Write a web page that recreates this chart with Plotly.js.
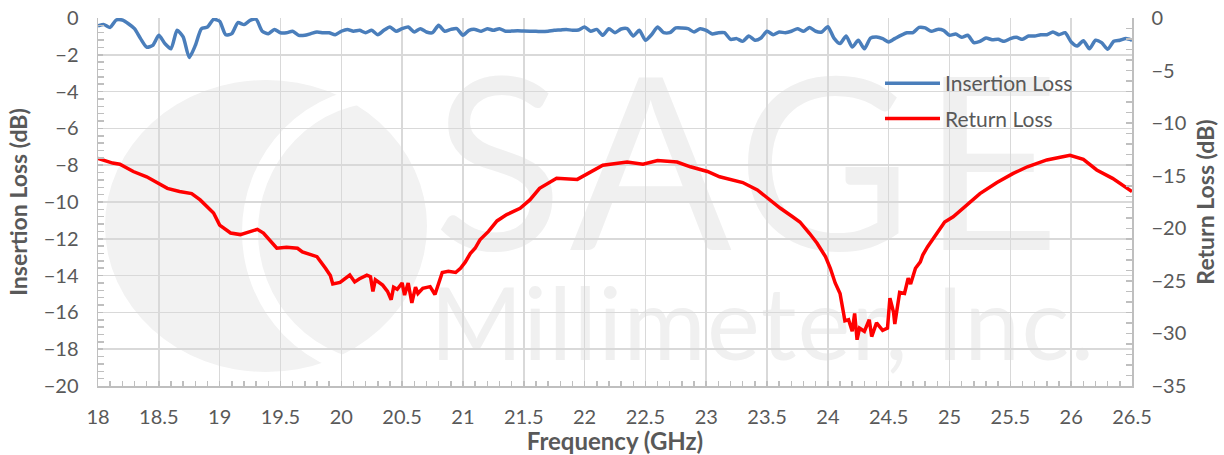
<!DOCTYPE html>
<html>
<head>
<meta charset="utf-8">
<script src="https://cdn.plot.ly/plotly-3.0.1.min.js"></script>
<style>html,body{margin:0;padding:0;background:#fff;}#chart{width:1224px;height:455px;}</style>
</head>
<body>
<div id="chart"></div>
<script>
// Insertion loss (dB), sampled every 0.05 GHz from 18.00 to 26.50 GHz
var insertionStart = 18.0;
var insertionStep = 0.05;
var insertionLoss = [
-0.43,-0.36,-0.51,-0.11,-0.11,-0.31,-0.58,-1.12,-1.58,-1.49,
-0.94,-1.39,-1.67,-0.67,-1.03,-2.15,-1.49,-0.58,-0.49,-0.07,
-0.18,-0.91,-0.85,-0.25,-0.36,-0.13,-0.07,-0.72,-0.85,-0.62,
-0.80,-0.80,-0.72,-0.94,-0.94,-0.85,-0.76,-0.80,-0.80,-0.91,
-0.72,-0.62,-0.72,-0.67,-0.80,-0.67,-0.91,-0.67,-0.49,-0.72,
-0.58,-0.49,-0.76,-0.58,-0.76,-0.80,-0.40,-0.72,-0.62,-0.58,
-0.94,-0.67,-0.62,-0.72,-0.58,-0.67,-0.58,-0.72,-0.71,-0.69,
-0.71,-0.72,-0.72,-0.74,-0.72,-0.67,-0.65,-0.62,-0.67,-0.65,
-0.49,-0.72,-0.62,-0.94,-0.58,-0.80,-0.60,-0.58,-0.98,-0.67,
-1.21,-0.91,-0.49,-0.80,-0.80,-0.54,-0.54,-0.58,-0.76,-0.58,
-0.67,-0.87,-0.80,-0.80,-1.16,-1.12,-1.27,-0.98,-1.21,-1.09,
-0.72,-0.91,-0.76,-0.80,-0.72,-0.58,-0.72,-0.51,-0.72,-0.76,
-0.47,-1.09,-1.39,-0.98,-1.58,-1.21,-1.67,-1.09,-1.03,-1.12,
-1.30,-1.12,-0.94,-0.80,-0.80,-0.51,-0.54,-0.72,-0.62,-0.67,
-0.94,-0.87,-1.05,-0.94,-1.34,-1.27,-1.09,-1.18,-1.16,-1.27,
-1.12,-1.05,-1.16,-0.98,-0.98,-0.91,-0.91,-0.76,-0.91,-0.80,
-1.30,-1.52,-1.23,-1.67,-1.21,-1.34,-1.70,-1.27,-1.21,-1.12,
-1.21
];

// Return loss (dB) read at these frequencies (GHz)
var returnFreq = [
18.00,18.12,18.18,18.29,18.40,18.49,18.57,18.67,18.77,18.84,
18.95,19.00,19.09,19.17,19.23,19.31,19.36,19.41,19.47,19.55,
19.64,19.68,19.76,19.80,19.87,19.91,19.93,19.99,20.07,20.11,
20.15,20.21,20.24,20.26,20.28,20.34,20.38,20.41,20.43,20.46,
20.50,20.52,20.55,20.58,20.61,20.63,20.67,20.73,20.77,20.80,
20.83,20.88,20.94,20.98,21.02,21.06,21.10,21.14,21.21,21.28,
21.36,21.47,21.55,21.63,21.77,21.94,22.04,22.15,22.35,22.48,
22.60,22.76,22.87,23.01,23.11,23.30,23.42,23.52,23.61,23.71,
23.77,23.85,23.91,23.98,24.02,24.06,24.10,24.14,24.17,24.20,
24.22,24.24,24.26,24.30,24.34,24.36,24.40,24.45,24.49,24.51,
24.54,24.55,24.57,24.59,24.63,24.66,24.68,24.72,24.76,24.78,
24.82,24.86,24.91,24.96,25.03,25.11,25.18,25.25,25.39,25.52,
25.64,25.80,25.91,25.99,26.10,26.21,26.34,26.43,26.50
];
var returnLoss = [
-13.35,-13.80,-13.90,-14.60,-15.10,-15.70,-16.20,-16.50,-16.70,-17.30,
-18.55,-19.70,-20.45,-20.60,-20.35,-20.10,-20.45,-21.10,-21.90,-21.80,
-21.90,-22.25,-22.55,-22.70,-23.80,-24.50,-25.30,-25.15,-24.45,-25.10,
-24.80,-24.45,-24.60,-26.00,-24.90,-25.40,-26.00,-26.80,-25.60,-25.80,
-25.20,-26.35,-25.20,-27.10,-25.60,-26.20,-25.70,-25.55,-26.30,-25.30,
-24.20,-24.10,-24.20,-23.80,-23.20,-22.40,-21.90,-21.10,-20.30,-19.30,
-18.70,-18.10,-17.30,-16.20,-15.25,-15.35,-14.70,-14.00,-13.70,-13.90,
-13.55,-13.70,-14.15,-14.60,-15.10,-15.65,-16.35,-17.30,-18.10,-18.90,
-19.40,-20.50,-21.40,-22.70,-23.80,-25.20,-26.20,-28.80,-28.70,-29.80,
-28.10,-30.60,-29.50,-29.80,-28.70,-30.30,-29.00,-29.70,-29.50,-26.65,
-28.00,-29.10,-27.45,-26.10,-26.20,-24.75,-25.30,-23.80,-23.20,-22.55,
-21.75,-21.10,-20.15,-19.40,-18.90,-18.10,-17.30,-16.70,-15.65,-14.80,
-14.15,-13.50,-13.25,-13.05,-13.45,-14.45,-15.25,-15.90,-16.50
];

var seriesNames = ['Insertion Loss', 'Return Loss'];
var seriesColors = ['#4a7ebb', '#ff0000'];
var xRange = [18, 26.5];
var leftRange = [-20, 0];
var rightRange = [-35, 0];
var watermarkWords = ['SAGE', 'Millimeter, Inc.'];

var traces = [
  {
    type: 'scatter', mode: 'lines', name: seriesNames[0],
    x0: insertionStart, dx: insertionStep, y: insertionLoss,
    line: {color: seriesColors[0], width: 3.5, shape: 'spline', smoothing: 0.6},
    yaxis: 'y', legendgroup: 'a', hoverinfo: 'x+y'
  },
  {
    type: 'scatter', mode: 'lines', name: seriesNames[1],
    x: returnFreq, y: returnLoss,
    line: {color: seriesColors[1], width: 3.5},
    yaxis: 'y2', legendgroup: 'b', hoverinfo: 'x+y'
  }
];

var grey = '#595959';
var axisLine = '#bfbfbf';
var gridCol = '#d9d9d9';
var fontFam = 'Lato, "Open Sans", sans-serif';

// faint company watermark behind the grid (plot box is 1034 x 368 px)
var wm = '<svg xmlns="http://www.w3.org/2000/svg" width="1034" height="368" viewBox="0 0 1034 368">' +
  '<ellipse cx="168" cy="208" rx="161" ry="146" fill="#f2f2f2"/>' +
  '<ellipse cx="287" cy="214" rx="135" ry="138" fill="none" stroke="#ffffff" stroke-width="16"/>' +
  '<text x="335" y="232" font-family="Lato, Open Sans, sans-serif" font-size="240" fill="#f0f0f0" textLength="627" lengthAdjust="spacing">' + watermarkWords[0] + '</text>' +
  '<text x="332" y="342" font-family="Lato, Open Sans, sans-serif" font-size="100" fill="#f0f0f0" textLength="664" lengthAdjust="spacing">' + watermarkWords[1] + '</text>' +
  '</svg>';

var layout = {
  width: 1224, height: 455,
  margin: {l: 98, r: 92, t: 18, b: 69, pad: 0},
  paper_bgcolor: '#ffffff', plot_bgcolor: '#ffffff',
  font: {family: fontFam, color: grey, size: 20},
  showlegend: true,
  legend: {
    x: (880 - 98) / 1034, y: (386 - 63) / 368, xanchor: 'left', yanchor: 'top',
    bgcolor: 'rgba(0,0,0,0)', borderwidth: 0,
    font: {family: fontFam, size: 21, color: grey},
    traceorder: 'grouped', tracegroupgap: 5, itemwidth: 55
  },
  xaxis: {
    range: xRange, tick0: 18, dtick: 0.5, showgrid: true, gridcolor: gridCol, gridwidth: 1.5,
    showline: true, linecolor: axisLine, linewidth: 1.5, zeroline: false,
    ticks: 'inside', ticklen: 5, tickcolor: axisLine, tickwidth: 1.5,
    ticklabelstandoff: 12,
    minor: {dtick: 0.1, ticks: 'inside', ticklen: 5, tickcolor: axisLine, tickwidth: 1.5, showgrid: false},
    tickfont: {size: 20, color: grey, family: fontFam},
    title: {text: 'Frequency (GHz)', font: {size: 24, color: grey, family: fontFam, weight: 'bold'}, standoff: 6}
  },
  yaxis: {
    range: leftRange, tick0: 0, dtick: 2, showgrid: true, gridcolor: gridCol, gridwidth: 1.5,
    showline: true, linecolor: axisLine, linewidth: 1.5, zeroline: false,
    ticks: 'inside', ticklen: 5, tickcolor: axisLine, tickwidth: 1.5,
    ticklabelstandoff: 14,
    minor: {dtick: 0.4, ticks: 'inside', ticklen: 6, tickcolor: axisLine, tickwidth: 1.5, showgrid: false},
    tickfont: {size: 20, color: grey, family: fontFam},
    title: {text: 'Insertion Loss (dB)', font: {size: 23, color: grey, family: fontFam, weight: 'bold'}, standoff: 9}
  },
  yaxis2: {
    overlaying: 'y', side: 'right', range: rightRange, tick0: 0, dtick: 5, showgrid: false,
    showline: true, linecolor: axisLine, linewidth: 1.5, zeroline: false,
    ticks: 'inside', ticklen: 6, tickcolor: axisLine, tickwidth: 1.5,
    ticklabelstandoff: 14,
    minor: {dtick: 1, ticks: 'inside', ticklen: 6, tickcolor: axisLine, tickwidth: 1.5, showgrid: false},
    tickfont: {size: 20, color: grey, family: fontFam},
    title: {text: 'Return Loss (dB)', font: {size: 23, color: grey, family: fontFam, weight: 'bold'}, standoff: 12}
  },
  images: [{
    source: 'data:image/svg+xml;charset=utf-8,' + encodeURIComponent(wm),
    xref: 'paper', yref: 'paper', x: 0, y: 1, sizex: 1, sizey: 1,
    xanchor: 'left', yanchor: 'top', sizing: 'stretch', layer: 'below', opacity: 1
  }]
};

Plotly.newPlot('chart', traces, layout, {staticPlot: true, displayModeBar: false});
</script>
</body>
</html>
